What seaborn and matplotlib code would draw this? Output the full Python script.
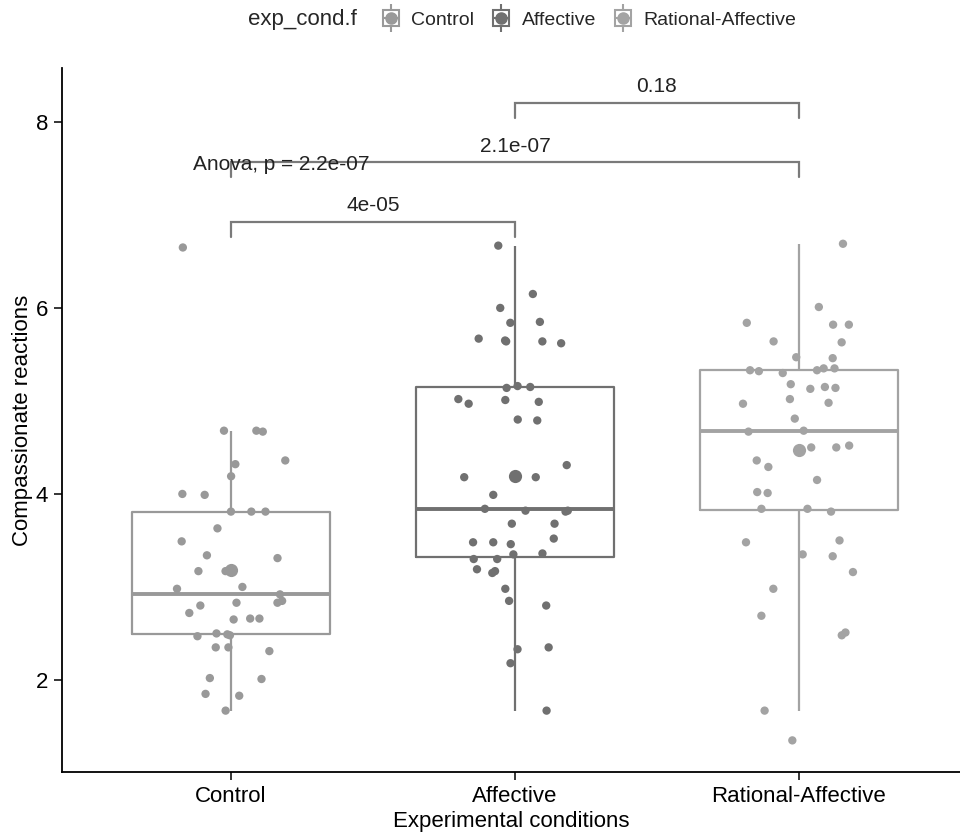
import numpy as np
import pandas as pd
import matplotlib
matplotlib.use('Agg')
import matplotlib.pyplot as plt
import seaborn as sns
from matplotlib.lines import Line2D
from matplotlib.legend_handler import HandlerTuple

sns.set_theme(style='ticks')
plt.rcParams['font.family'] = ['Liberation Sans', 'DejaVu Sans']

conditions = ['Control', 'Affective', 'Rational-Affective']
control = [6.65, 4.67, 4.68, 4.68, 4.36, 4.32, 4.19, 4.00, 3.99, 3.81, 3.81, 3.81,
           3.63, 3.49, 3.34, 3.31, 3.17, 3.17, 2.92, 2.98, 3.00, 2.85, 2.80, 2.83,
           2.83, 2.72, 2.65, 2.66, 2.66, 2.49, 2.47, 2.48, 2.50, 2.35, 2.35, 2.31,
           2.01, 2.02, 1.83, 1.85, 1.67]
affective = [6.67, 6.15, 6.00, 5.84, 5.85, 5.65, 5.62, 5.67, 5.64, 5.64, 5.14, 5.15,
             5.16, 5.01, 5.02, 4.97, 4.99, 4.80, 4.79, 4.31, 4.18, 4.18, 3.99, 3.82,
             3.84, 3.82, 3.81, 3.68, 3.68, 3.52, 3.48, 3.48, 3.46, 3.36, 3.35, 3.30,
             3.30, 3.17, 3.15, 3.19, 2.98, 2.85, 2.80, 2.35, 2.33, 2.18, 1.67]
rational = [6.69, 6.01, 5.82, 5.82, 5.84, 5.63, 5.64, 5.47, 5.46, 5.35, 5.32, 5.33,
            5.33, 5.30, 5.35, 5.18, 5.13, 5.15, 5.14, 4.98, 4.97, 5.02, 4.81, 4.67,
            4.68, 4.50, 4.50, 4.52, 4.36, 4.29, 4.15, 4.02, 4.01, 3.84, 3.84, 3.81,
            3.50, 3.48, 3.35, 3.33, 3.16, 2.98, 2.69, 2.48, 2.51, 1.67, 1.35]
comparisons = [('Control', 'Affective', '4e-05'),
               ('Control', 'Rational-Affective', '2.1e-07'),
               ('Affective', 'Rational-Affective', '0.18')]
anova_label = 'Anova, p = 2.2e-07'
yticks = [2, 4, 6, 8]

colors = ['#999999', '#707070', '#a3a3a3']
pal = dict(zip(conditions, colors))

df = pd.DataFrame({
    'cond': np.repeat(conditions, [len(control), len(affective), len(rational)]),
    'value': np.concatenate([control, affective, rational]),
})
df['cond'] = pd.Categorical(df['cond'], categories=conditions, ordered=True)

fig = plt.figure(figsize=(9.6, 8.34), dpi=100)
ax = fig.add_axes([62 / 960, 62 / 834, (960 - 62) / 960, (772 - 68) / 834])

sns.boxplot(data=df, x='cond', y='value', hue='cond', palette=pal, fill=False,
            width=0.7, showfliers=False, showcaps=False, linewidth=1.6,
            medianprops={'linewidth': 2.8}, legend=False, ax=ax)
np.random.seed(7)
sns.stripplot(data=df, x='cond', y='value', hue='cond', palette=pal, jitter=0.2,
              size=6, legend=False, ax=ax, zorder=3)
means = df.groupby('cond', observed=True)['value'].mean().reset_index()
sns.stripplot(data=means, x='cond', y='value', hue='cond', palette=pal, jitter=False,
              size=9.5, legend=False, ax=ax, zorder=4)

# comparison brackets
ymax = df['value'].max()
rng = ymax - df['value'].min()
tip = 0.03 * rng
for i, (a, b, lab) in enumerate(comparisons):
    xa, xb = conditions.index(a), conditions.index(b)
    y = ymax * 1.035 + i * 0.12 * rng
    ax.plot([xa, xa, xb, xb], [y - tip, y, y, y - tip], color='#7a7a7a', lw=1.6,
            solid_joinstyle='miter', zorder=2)
    ax.text((xa + xb) / 2, y + 0.07, lab, ha='center', va='bottom', fontsize=15,
            color='#222222')
ax.text(-0.134, 7.54, anova_label, ha='left', va='center', fontsize=15, color='#222222')

ax.set_xlim(-0.595, 2.567)
ax.set_ylim(1.01, 8.58)
ax.set_yticks(yticks)
ax.set_xlabel('Experimental conditions', fontsize=16, color='black', labelpad=3)
ax.set_ylabel('Compassionate reactions', fontsize=16, color='black', labelpad=2)
ax.tick_params(axis='both', labelsize=16, length=6, width=1.1, colors='black',
               labelcolor='black', pad=4)
for s in ['top', 'right']:
    ax.spines[s].set_visible(False)
for s in ['left', 'bottom']:
    ax.spines[s].set_linewidth(1.3)
    ax.spines[s].set_color('black')

# legend
fig.text(248 / 960, 1 - 20 / 834, 'exp_cond.f', ha='left', va='center', fontsize=16)
handles = []
for c in colors:
    handles.append((
        Line2D([], [], color=c, marker='|', markersize=20, markeredgewidth=1.5, linestyle='none'),
        Line2D([], [], marker='s', markersize=12, markerfacecolor='white', markeredgecolor=c,
               markeredgewidth=1.5, linestyle='none'),
        Line2D([], [], marker='_', markersize=12, color=c, markeredgewidth=1.5, linestyle='none'),
        Line2D([], [], marker='o', markersize=8, color=c, linestyle='none'),
    ))
fig.legend(handles, conditions, handler_map={tuple: HandlerTuple(ndivide=1, pad=0)},
           loc='center left', bbox_to_anchor=(377 / 960, 1 - 20 / 834), ncol=3,
           frameon=False, fontsize=14, handlelength=1.4, handletextpad=0.35,
           columnspacing=0.7, borderaxespad=0, borderpad=0)

fig.savefig('out.png', dpi=100)
